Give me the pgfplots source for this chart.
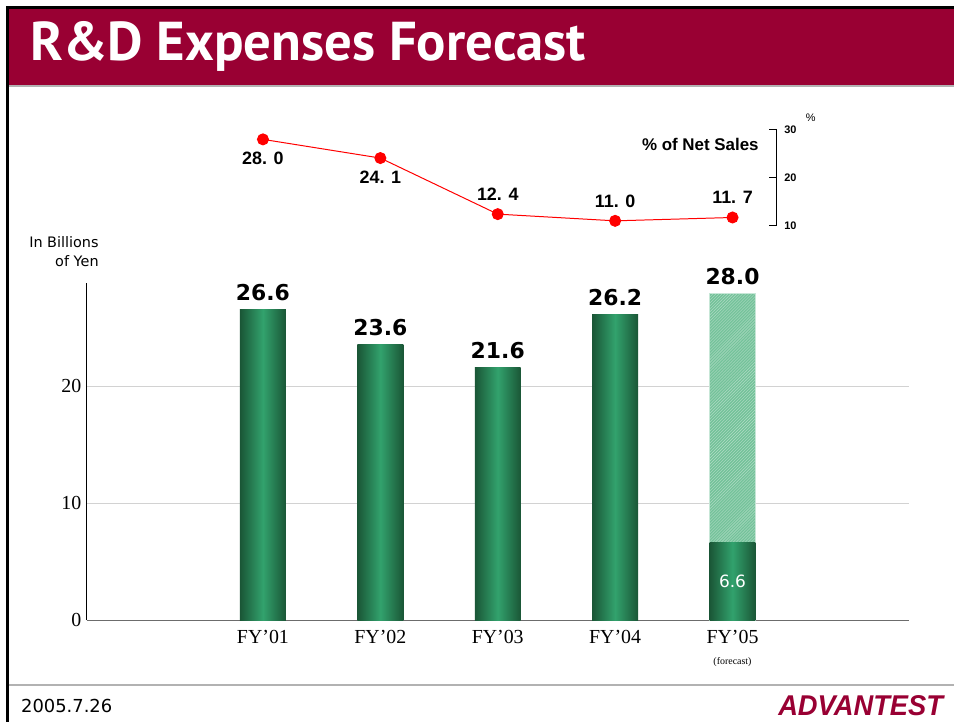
\documentclass[border=0pt]{standalone}
\usepackage{pgfplots}
\pgfplotsset{compat=1.18}
\usepackage{fontspec}
\usepackage{graphicx}
\usetikzlibrary{patterns}
\setmainfont{Liberation Serif}
\newfontfamily\dv{DejaVu Sans}
\newfontfamily\lib{Liberation Sans}
\newfontfamily\pt{PT Sans}
\definecolor{crimson}{HTML}{990033}
\definecolor{gdark}{HTML}{1A5636}
\definecolor{glight}{HTML}{32A26D}
\definecolor{ghatch}{HTML}{74C29A}
\pgfplotsset{
  barlabel/.style={
    nodes near coords={\pgfmathprintnumber[fixed,fixed zerofill,precision=1]{\pgfplotspointmeta}},
    nodes near coords style={font=\dv\bfseries\fontsize{22}{22}\selectfont, text=black, yshift=5bp}},
  gbar/.style={ybar, bar width=46bp, bar shift=0pt, draw=none,
    left color=gdark, right color=gdark, middle color=glight, barlabel},
}
\begin{document}
\begin{tikzpicture}[x=1bp,y=1bp]
\path[fill=white] (0,0) rectangle (955,723);
% title band
\fill[crimson] (9,638) rectangle (955,714);
\draw[gray!60, line width=2bp] (9,637) -- (955,637);
\draw[black, line width=3bp] (8,0) -- (8,715.5) -- (955,715.5);
\node[anchor=west, text=white, font=\pt\bfseries\fontsize{55}{55}\selectfont, inner sep=0] at (30,676) {R\&D Expenses Forecast};
% footer
\draw[gray!60, line width=1.5bp] (9,37) -- (955,37);
\node[anchor=west, font=\dv\fontsize{18}{18}\selectfont, inner sep=0] at (21,16) {2005.7.26};
\node[inner sep=0] at (862,16) {\resizebox{165bp}{20bp}{\color{crimson}\lib\bfseries\itshape ADVANTEST}};
% y unit label
\node[anchor=east, align=right, font=\dv\fontsize{14.5}{20}\selectfont, inner sep=0] at (99,471) {In Billions\\of Yen};

% bar axis
\begin{axis}[
  at={(87bp,102bp)}, anchor=south west, scale only axis,
  width=823bp, height=338bp,
  xmin=-1.5, xmax=5.5, ymin=0, ymax=28.9,
  axis x line*=bottom, axis y line*=left,
  axis line style={-},
  x axis line style={draw=gray!85!black, line width=1bp},
  y axis line style={draw=black, line width=1bp},
  xtick={0,1,2,3,4},
  xticklabels={FY’01,FY’02,FY’03,FY’04,FY’05},
  ytick={0,10,20},
  major tick length=0pt,
  ymajorgrids, grid style={gray!35, line width=0.8bp},
  /pgf/number format/assume math mode=true,
  ticklabel style={font=\fontsize{20}{20}\selectfont},
  xticklabel style={yshift=-7bp},
  yticklabel style={xshift=-2bp},
  clip=false,
]
\addplot[gbar] coordinates {(0,26.6)};
\addplot[gbar] coordinates {(1,23.6)};
\addplot[gbar] coordinates {(2,21.6)};
\addplot[gbar] coordinates {(3,26.2)};
\addplot[ybar, bar width=46bp, bar shift=0pt, fill=ghatch, draw=white!60!ghatch,
  postaction={pattern=north east lines, pattern color=white!45!ghatch}, barlabel]
  coordinates {(4,28.0)};
\addplot[gbar,
  nodes near coords style={font=\dv\fontsize{17}{17}\selectfont, text=white, anchor=center, yshift=-43bp}]
  coordinates {(4,6.6)};
\node[font=\fontsize{10}{10}\selectfont] at (axis cs:4,0) [yshift=-42bp] {(forecast)};
\end{axis}

% percentage line axis
\begin{axis}[
  at={(87bp,497bp)}, anchor=south west, scale only axis,
  width=691bp, height=96bp,
  xmin=-1.5, xmax=4.377, ymin=10, ymax=30,
  axis x line=none, axis y line*=right,
  y axis line style={-, draw=black, line width=0.8bp},
  ytick={10,20,30},
  tick align=inside, major tick length=8bp,
  tick style={draw=black, line width=0.8bp},
  /pgf/number format/assume math mode=true,
  yticklabel style={font=\lib\bfseries\fontsize{11}{11}\selectfont, xshift=4bp},
  clip=false,
]
\addplot[red, line width=1bp, mark=*, mark size=5.5bp, mark options={fill=red, draw=red}]
  coordinates {(0,28.0) (1,24.1) (2,12.4) (3,11.0) (4,11.7)};
\addplot[draw=none, mark=none, point meta=explicit symbolic, nodes near coords,
  nodes near coords style={font=\lib\bfseries\fontsize{18}{18}\selectfont, anchor=north, yshift=-9bp}]
  coordinates {(0,28.0) [28. 0] (1,24.1) [24. 1]};
\addplot[draw=none, mark=none, point meta=explicit symbolic, nodes near coords,
  nodes near coords style={font=\lib\bfseries\fontsize{18}{18}\selectfont, anchor=south, yshift=10bp}]
  coordinates {(2,12.4) [12. 4] (3,11.0) [11. 0] (4,11.7) [11. 7]};
\end{axis}
\node[anchor=east, font=\lib\bfseries\fontsize{17}{17}\selectfont, inner sep=0] at (760,578) {\% of Net Sales};
\node[font=\lib\fontsize{11}{11}\selectfont, inner sep=0] at (812,605) {\%};
\end{tikzpicture}
\end{document}
